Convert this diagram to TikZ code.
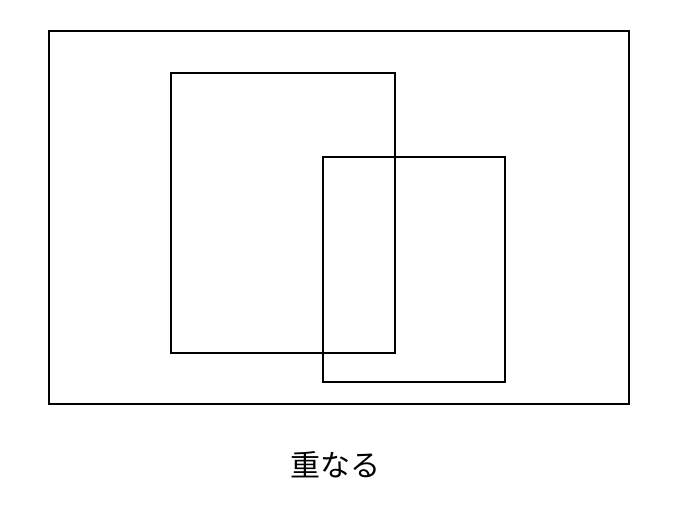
\documentclass[tikz,border=0pt]{standalone}
\usepackage{fontspec}
\newfontfamily\cjk{Noto Sans CJK JP}
\begin{document}
\begin{tikzpicture}[x=1pt,y=-1pt,
  box/.style={draw=black,line width=1.6pt},
  lbl/.style={font=\cjk\fontsize{30}{33}\selectfont,inner sep=0pt}]
\useasboundingbox (0,0) rectangle (676,516);
\fill[white] (0,0) rectangle (676,516);
\node[box,minimum width=580pt,minimum height=373pt,inner sep=0pt] (outer) at (339,217.5) {};
\node[box,minimum width=224pt,minimum height=280pt,inner sep=0pt] (a) at (283,213) {};
\node[box,minimum width=182pt,minimum height=225pt,inner sep=0pt] (b) at (414,269.5) {};
\node[lbl] (t) at (335,465) {重なる};
\end{tikzpicture}
\end{document}
